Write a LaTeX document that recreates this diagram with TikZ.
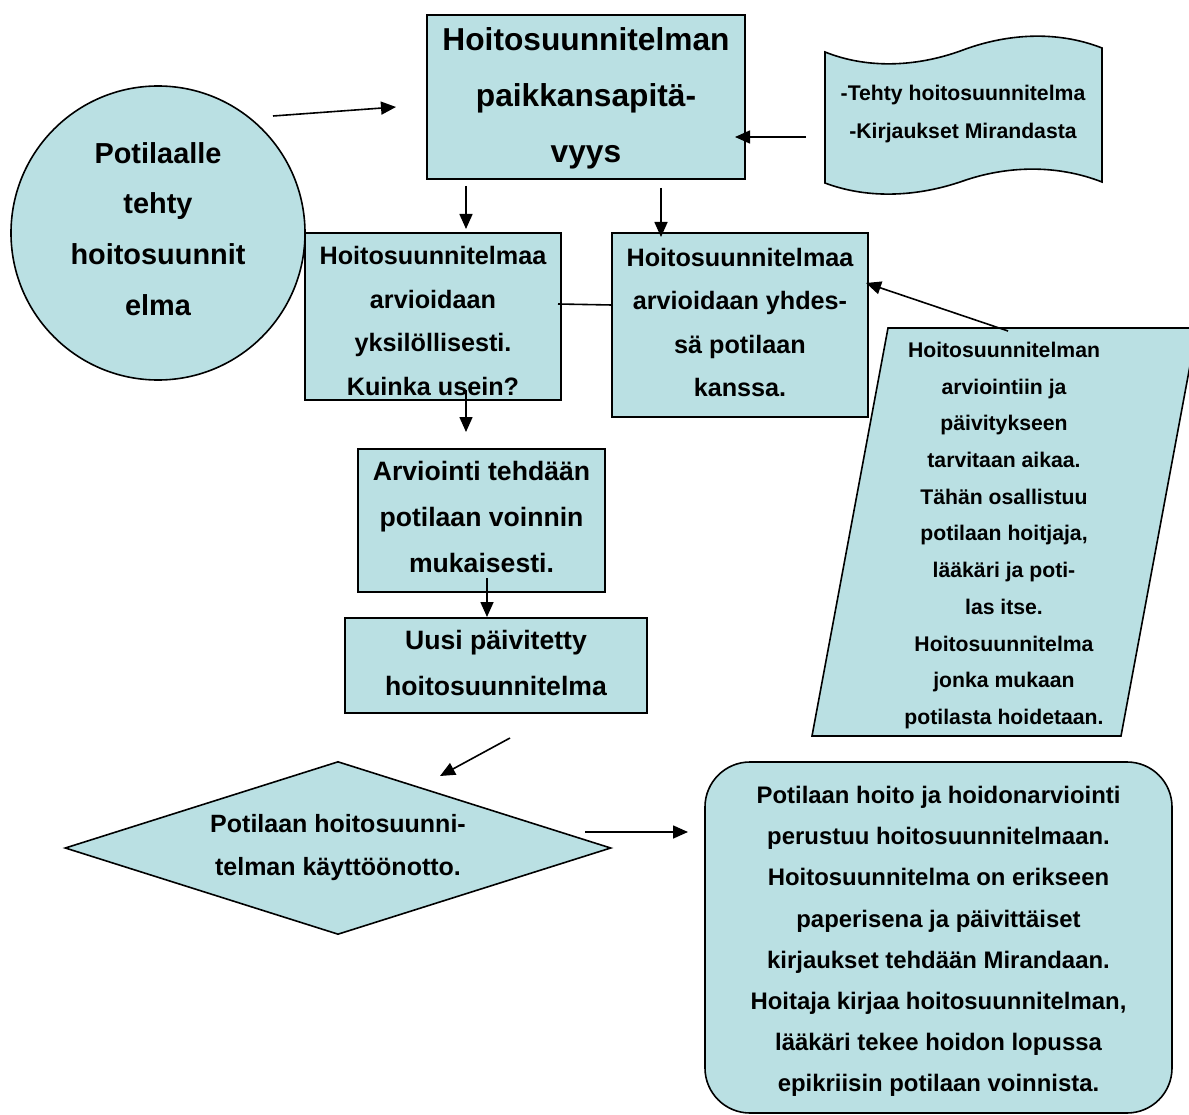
\documentclass[tikz,border=0pt]{standalone}
\usepackage{fontspec}
\setmainfont{Liberation Sans}
\usetikzlibrary{arrows.meta,shapes.geometric}
\definecolor{tq}{RGB}{186,224,227}
\begin{document}
\begin{tikzpicture}[x=1pt,y=-1pt,
  shape line/.style={draw=black, fill=tq, line width=1.6pt, inner sep=0pt},
  box/.style={shape line, rectangle},
  txt/.style={align=center, inner sep=0pt},
  arr/.style={line width=1.6pt, -{Triangle[length=15pt,width=13pt]}},
  fs/.style 2 args={font=\fontsize{#1}{#2}\selectfont\bfseries}]
\clip (0,0) rectangle (1189,1115);
\fill[white] (0,0) rectangle (1189,1115);

% starting point
\node[shape line, circle, minimum size=294pt] (start) at (158,233) {};
\node[txt, fs={28.9}{50.7}] (start-t) at (158,229)
  {Potilaalle\\tehty\\hoitosuunnit\\elma};

% main process boxes
\node[box, minimum width=318pt, minimum height=164pt] (plan) at (586,97) {};
\node[txt, fs={31.7}{56}] (plan-t) at (586,98.5)
  {Hoitosuunnitelman\\paikkansapitä-\\vyys};

\node[box, minimum width=256pt, minimum height=167pt] (indiv) at (433,316.5) {};
\node[txt, fs={25.2}{43.5}] (indiv-t) at (433,321)
  {Hoitosuunnitelmaa\\arvioidaan\\yksilöllisesti.\\Kuinka usein?};

\node[box, minimum width=256pt, minimum height=184pt] (joint) at (740,325) {};
\node[txt, fs={25.2}{43.5}] (joint-t) at (740,322.5)
  {Hoitosuunnitelmaa\\arvioidaan yhdes-\\sä potilaan\\kanssa.};

\node[box, minimum width=247pt, minimum height=143pt] (eval) at (481.5,520.5) {};
\node[txt, fs={26.6}{46}] (eval-t) at (481.5,516.5)
  {Arviointi tehdään\\potilaan voinnin\\mukaisesti.};

\node[box, minimum width=302pt, minimum height=95pt] (new) at (496,665.5) {};
\node[txt, fs={26.6}{46}] (new-t) at (496,662.5)
  {Uusi päivitetty\\hoitosuunnitelma};

% decision
\node[shape line, diamond, aspect=3.156, minimum width=546pt, minimum height=173pt]
  (use) at (338,848) {};
\node[txt, fs={25}{43}] (use-t) at (338,847.5)
  {Potilaan hoitosuunni-\\telman käyttöönotto.};

% final terminal
\node[shape line, rectangle, rounded corners=45pt, minimum width=467pt, minimum height=351pt]
  (care) at (938.5,937.5) {};
\node[txt, fs={23.9}{41.2}] (care-t) at (938.5,941.5)
  {Potilaan hoito ja hoidonarviointi\\perustuu hoitosuunnitelmaan.\\Hoitosuunnitelma on erikseen\\paperisena ja päivittäiset\\kirjaukset tehdään Mirandaan.\\Hoitaja kirjaa hoitosuunnitelman,\\lääkäri tekee hoidon lopussa\\epikriisin potilaan voinnista.};

% punched-tape source document
\draw[shape line] (825,52) .. controls (870,70) and (920,66) .. (963,50)
  .. controls (1006,34) and (1056,30) .. (1102,48) -- (1102,182)
  .. controls (1056,164) and (1006,166) .. (963,181)
  .. controls (920,196) and (870,200) .. (825,183) -- cycle;
\node[txt, fs={21.2}{38}] (src) at (963,114)
  {-Tehty hoitosuunnitelma\\-Kirjaukset Mirandasta};

% data note (parallelogram)
\draw[shape line] (888,328) -- (1197,328) -- (1121,736) -- (812,736) -- cycle;
\node[txt, fs={21.2}{36.7}] (note) at (1004,535.5)
  {Hoitosuunnitelman\\arviointiin ja\\päivitykseen\\tarvitaan aikaa.\\Tähän osallistuu\\potilaan hoitjaja,\\lääkäri ja poti-\\las itse.\\Hoitosuunnitelma\\jonka mukaan\\potilasta hoidetaan.};

% connector end points
\coordinate (c1a) at (273,116);  \coordinate (c1b) at (396,107);
\coordinate (c2a) at (806,137);  \coordinate (c2b) at (735,137);
\coordinate (c3a) at (466,186);  \coordinate (c3b) at (466,229);
\coordinate (c4a) at (661,188);  \coordinate (c4b) at (661,237);
\coordinate (c5a) at (466,390);  \coordinate (c5b) at (466,432);
\coordinate (c6a) at (487,578);  \coordinate (c6b) at (487,617);
\coordinate (c7a) at (510,738);  \coordinate (c7b) at (440,776);
\coordinate (c8a) at (585,832);  \coordinate (c8b) at (688,832);
\coordinate (c9a) at (1008,331); \coordinate (c9b) at (866,283);
\coordinate (l1a) at (558,304);  \coordinate (l1b) at (612,305);

\draw[arr] (c1a) -- (c1b);
\draw[arr] (c2a) -- (c2b);
\draw[arr] (c3a) -- (c3b);
\draw[arr] (c4a) -- (c4b);
\draw[arr] (c5a) -- (c5b);
\draw[arr] (c6a) -- (c6b);
\draw[arr] (c7a) -- (c7b);
\draw[arr] (c8a) -- (c8b);
\draw[arr] (c9a) -- (c9b);
\draw[line width=1.6pt] (l1a) -- (l1b);
\end{tikzpicture}
\end{document}
